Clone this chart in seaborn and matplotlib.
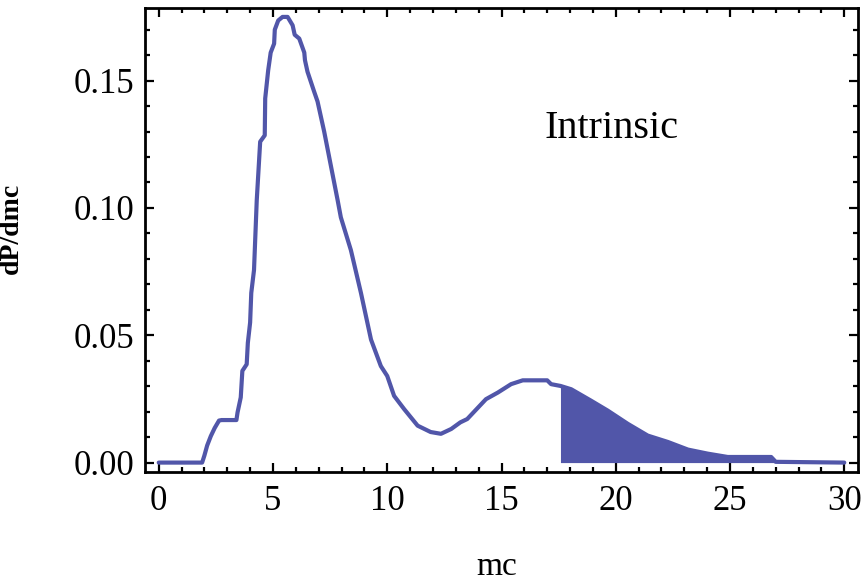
import numpy as np
import pandas as pd
import matplotlib
matplotlib.use("Agg")
import matplotlib.pyplot as plt
import seaborn as sns
from matplotlib.ticker import MultipleLocator, FormatStrFormatter

# curve
mc = [0.0, 1.9, 2.0, 2.12, 2.28, 2.45, 2.64, 2.75, 3.4, 3.45, 3.59, 3.66,
      3.85, 3.9, 4.0, 4.05, 4.17, 4.29, 4.44, 4.64, 4.66, 4.79, 4.9, 5.05,
      5.08, 5.23, 5.42, 5.64, 5.86, 5.95, 6.15, 6.37, 6.4, 6.51, 6.8, 6.95,
      7.24, 7.83, 7.97, 8.41, 8.85, 9.29, 9.72, 10.0, 10.3, 10.74, 11.33,
      11.9, 12.35, 12.8, 13.2, 13.5, 14.32, 14.84, 15.42, 15.93, 17.0, 17.17,
      17.58, 18.05, 18.92, 19.65, 20.53, 21.4, 22.28, 23.16, 24.03, 24.9,
      26.8, 27.0, 30.0]
dens = [0.0, 0.0, 0.0028, 0.0067, 0.0104, 0.0136, 0.0165, 0.0167, 0.0167,
        0.0197, 0.0256, 0.036, 0.0386, 0.047, 0.055, 0.0666, 0.0756, 0.103,
        0.126, 0.1285, 0.143, 0.154, 0.161, 0.1645, 0.170, 0.1736, 0.175,
        0.175, 0.1717, 0.168, 0.1665, 0.161, 0.158, 0.1535, 0.1457, 0.1418,
        0.130, 0.103, 0.0963, 0.0834, 0.0666, 0.0483, 0.0379, 0.034, 0.0262,
        0.021, 0.0145, 0.012, 0.0113, 0.0132, 0.0158, 0.0171, 0.0249, 0.0275,
        0.0308, 0.0323, 0.0323, 0.0308, 0.0301, 0.0288, 0.0243, 0.0204,
        0.0152, 0.0106, 0.0081, 0.0051, 0.0035, 0.0022, 0.0022, 0.0003, 0.0]
cut = 17.58
label = "Intrinsic"

df = pd.DataFrame({"mc": mc, "dens": dens})

sns.set_style("ticks")
plt.rcParams['font.family'] = ['Liberation Serif', 'DejaVu Serif']
plt.rcParams['text.color'] = 'black'
plt.rcParams['axes.labelcolor'] = 'black'

col = "#5156A9"

fig = plt.figure(figsize=(8.61, 5.81), dpi=100)
ax = fig.add_axes([145/861, 1 - 471.5/581, 713/861, 463.5/581])

sns.lineplot(data=df, x="mc", y="dens", color=col, lw=3.0, ax=ax,
             estimator=None, sort=False)
tail = df[df["mc"] >= cut]
ax.fill_between(tail["mc"], 0, tail["dens"], color=col, lw=0)

ax.set_xlim(-0.6, 30.6)
ax.set_ylim(-0.0035, 0.1785)
ax.set_xticks([0, 5, 10, 15, 20, 25, 30])
ax.set_yticks([0, 0.05, 0.10, 0.15])
ax.yaxis.set_major_formatter(FormatStrFormatter("%.2f"))
ax.xaxis.set_minor_locator(MultipleLocator(1))
ax.yaxis.set_minor_locator(MultipleLocator(0.01))
ax.tick_params(which="both", direction="in", top=True, right=True,
               width=1.6, labelsize=25, colors="black")
ax.tick_params(which="major", length=6.5)
ax.tick_params(which="minor", length=3.5)
ax.tick_params(axis="x", pad=10)
ax.tick_params(axis="y", pad=8)
for s in ax.spines.values():
    s.set_linewidth(2.0)
    s.set_color("black")

ax.set_xlabel("")
ax.set_ylabel("")
ax.text(19.8, 0.1313, label, fontsize=29, ha="center", va="center",
        color="black")

fig.text(497/861, 1 - 567/581, "mc", fontsize=24, ha="center", va="center",
         color="black")
fig.text(11/861, 1 - 228/581, "dP/dmc", fontsize=20, fontweight="bold",
         rotation=90, ha="center", va="center", color="black")

fig.savefig("out.png", dpi=100)
